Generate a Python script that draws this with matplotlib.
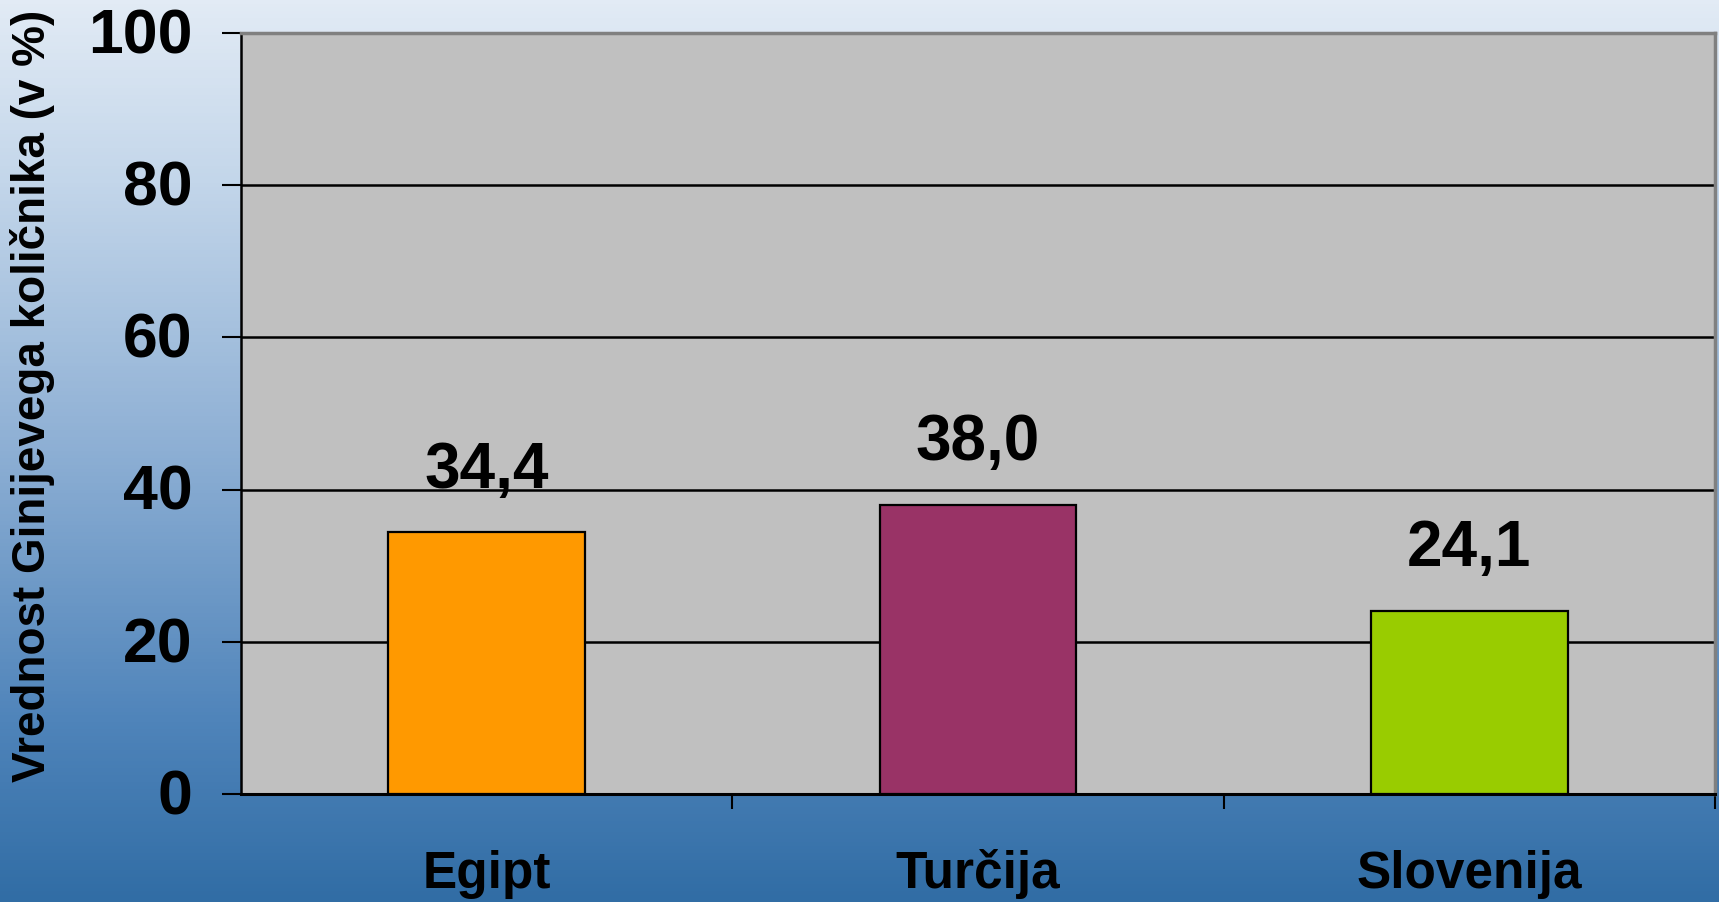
import numpy as np
import matplotlib
matplotlib.use('Agg')
import matplotlib.pyplot as plt
import matplotlib.transforms as mtransforms
from matplotlib.colors import LinearSegmentedColormap

plt.rcParams['font.family'] = ['Liberation Sans', 'DejaVu Sans']
plt.rcParams['font.weight'] = 'bold'

# data
countries = ['Egipt', 'Turčija', 'Slovenija']
gini = [34.4, 38.0, 24.1]
labels = ['34,4', '38,0', '24,1']
bar_colors = ['#FF9900', '#993366', '#99CC00']
yticks = [0, 20, 40, 60, 80, 100]
ylabel = 'Vrednost Ginijevega količnika (v %)'

W, H = 1719, 902
fig = plt.figure(figsize=(W / 100, H / 100), dpi=100)

# background gradient
bg = fig.add_axes([0, 0, 1, 1])
bg.axis('off')
cmap = LinearSegmentedColormap.from_list('bg', [
    (0.0, '#E2EBF5'), (0.2, '#C3D6EA'), (0.5, '#8DAFD4'),
    (0.8, '#4F84BA'), (1.0, '#316DA5')])
grad = np.linspace(0, 1, 256).reshape(-1, 1)
bg.imshow(grad, aspect='auto', cmap=cmap, extent=[0, 1, 0, 1], origin='upper')

# plot area
ax = fig.add_axes([241 / W, 1 - 794 / H, (1715 - 241) / W, (794 - 33) / H])
ax.set_facecolor('#C0C0C0')

x = np.arange(len(countries))
ax.bar(x, gini, width=0.4, color=bar_colors, edgecolor='black', linewidth=1.6, zorder=3)

for xi, v, lab in zip(x, gini, labels):
    ax.annotate(lab, (xi, v), xytext=(0, 32), textcoords='offset points',
                ha='center', va='baseline', fontsize=46, fontweight='bold')

ax.set_xlim(-0.5, 2.5)
ax.set_ylim(0, 100)
ax.set_yticks(yticks)
ax.set_yticklabels([str(t) for t in yticks], fontsize=45, fontweight='bold')
ax.tick_params(axis='y', length=14, width=1.5, pad=21, direction='out')
ax.yaxis.grid(True, color='black', linewidth=1.8)
ax.set_axisbelow(True)
# nudge tick labels up a little
shift = mtransforms.ScaledTranslation(0, 2 / 72, fig.dpi_scale_trans)
for t in ax.get_yticklabels():
    t.set_transform(t.get_transform() + shift)

# category labels centred, ticks on boundaries
ax.set_xticks(x)
ax.set_xticklabels([])
ax.tick_params(axis='x', which='major', length=0)
ax.set_xticks([0.5, 1.5, 2.5], minor=True)
ax.tick_params(axis='x', which='minor', length=11, width=1.5, direction='out')
for xi, c in zip(x, countries):
    ax.text(xi, -0.1235, c, transform=ax.get_xaxis_transform(), ha='center',
            va='baseline', fontsize=37, fontweight='bold')

ax.spines['left'].set_linewidth(1.8)
ax.spines['bottom'].set_linewidth(2.2)
ax.spines['top'].set_color('#808080')
ax.spines['top'].set_linewidth(2.5)
ax.spines['right'].set_color('#808080')
ax.spines['right'].set_linewidth(2.5)

fig.text(33 / W, 1 - 396 / H, ylabel, rotation=90, ha='center', va='center',
         fontsize=33, fontweight='bold')

fig.savefig('out.png', dpi=100)
